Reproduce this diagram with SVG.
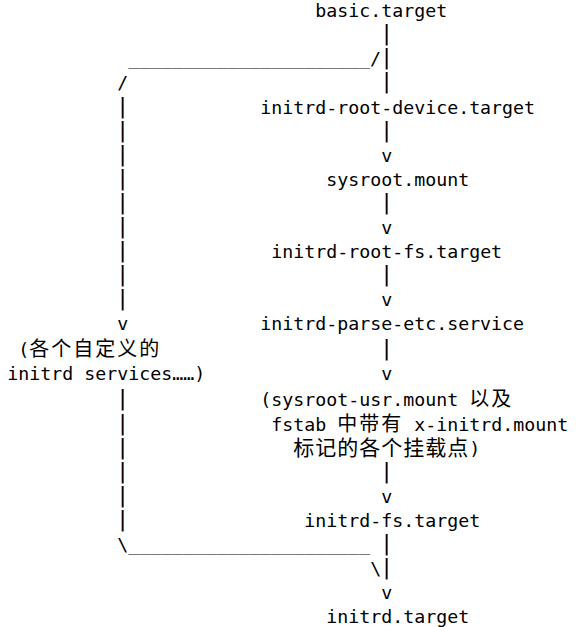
<svg xmlns="http://www.w3.org/2000/svg" width="577" height="627" viewBox="0 0 577 627">
<style>
  text { font-family: "DejaVu Sans Mono", "Liberation Mono", monospace; font-size: 18.27px; fill: #000; white-space: pre; }
  .p { font-size: 22px; }
  .cjk { font-family: "Noto Sans CJK SC", "Noto Sans CJK JP", sans-serif; font-size: 20px; letter-spacing: 2px; }
  .cjk2 { font-family: "Noto Sans CJK SC", "Noto Sans CJK JP", sans-serif; font-size: 21px; letter-spacing: 1px; }
</style>
<rect width="577" height="627" fill="#fff"/>
<g id="connectors">
  <text class="p" x="380.1" y="40.3">|</text>
  <text x="128.2" y="65.3" xml:space="preserve">______________________/</text><text class="p" x="380.1" y="64.3">|</text>
  <text x="117.2" y="89.3">/</text><text class="p" x="380.1" y="88.3">|</text>
  <text class="p" x="116.1" y="112.5">|</text>
  <text class="p" x="116.1" y="136.5">|</text><text class="p" x="380.1" y="136.5">|</text>
  <text class="p" x="116.1" y="160.5">|</text><text x="381.2" y="161.5">v</text>
  <text class="p" x="116.1" y="184.5">|</text>
  <text class="p" x="116.1" y="208.5">|</text><text class="p" x="380.1" y="208.5">|</text>
  <text class="p" x="116.1" y="232.5">|</text><text x="381.2" y="233.5">v</text>
  <text class="p" x="116.1" y="256.5">|</text>
  <text class="p" x="116.1" y="280.5">|</text><text class="p" x="380.1" y="280.5">|</text>
  <text class="p" x="116.1" y="304.5">|</text><text x="381.2" y="305.5">v</text>
  <text x="117.2" y="329.5">v</text>
  <text class="p" x="380.1" y="354.5">|</text>
  <text x="381.2" y="380">v</text>
  <text class="p" x="116.1" y="405">|</text>
  <text class="p" x="116.1" y="429.5">|</text>
  <text class="p" x="116.1" y="454">|</text>
  <text class="p" x="116.1" y="478">|</text><text class="p" x="380.1" y="478">|</text>
  <text class="p" x="116.1" y="502">|</text><text x="381.2" y="503">v</text>
  <text class="p" x="116.1" y="526">|</text>
  <text x="117.2" y="551" xml:space="preserve">\______________________</text><text class="p" x="380.1" y="550">|</text>
  <text x="370.2" y="575">\</text><text class="p" x="380.1" y="574">|</text>
  <text x="381.2" y="599">v</text>
</g>
<g id="basic-target"><text x="315.2" y="17.3">basic.target</text></g>
<g id="initrd-root-device-target"><text x="260.2" y="113.5">initrd-root-device.target</text></g>
<g id="sysroot-mount"><text x="326.2" y="185.5">sysroot.mount</text></g>
<g id="initrd-root-fs-target"><text x="271.2" y="257.5">initrd-root-fs.target</text></g>
<g id="initrd-parse-etc-service"><text x="260.2" y="329.5">initrd-parse-etc.service</text></g>
<g id="custom-initrd-services">
  <text x="18.2" y="355.5">(</text><text class="cjk" x="29.2" y="355.5">各个自定义的</text>
  <text x="7.2" y="380" xml:space="preserve">initrd services……)</text>
</g>
<g id="sysroot-usr-mounts">
  <text x="260.2" y="406">(sysroot-usr.mount</text><text class="cjk" x="469.2" y="406">以及</text>
  <text x="271.2" y="430.5">fstab</text><text class="cjk" x="337.2" y="430.5">中带有</text><text x="414.2" y="430.5">x-initrd.mount</text>
  <text class="cjk2" x="293.2" y="455">标记的各个挂载点</text><text x="469.2" y="455">)</text>
</g>
<g id="initrd-fs-target"><text x="304.2" y="527">initrd-fs.target</text></g>
<g id="initrd-target"><text x="326.2" y="623">initrd.target</text></g>
</svg>
